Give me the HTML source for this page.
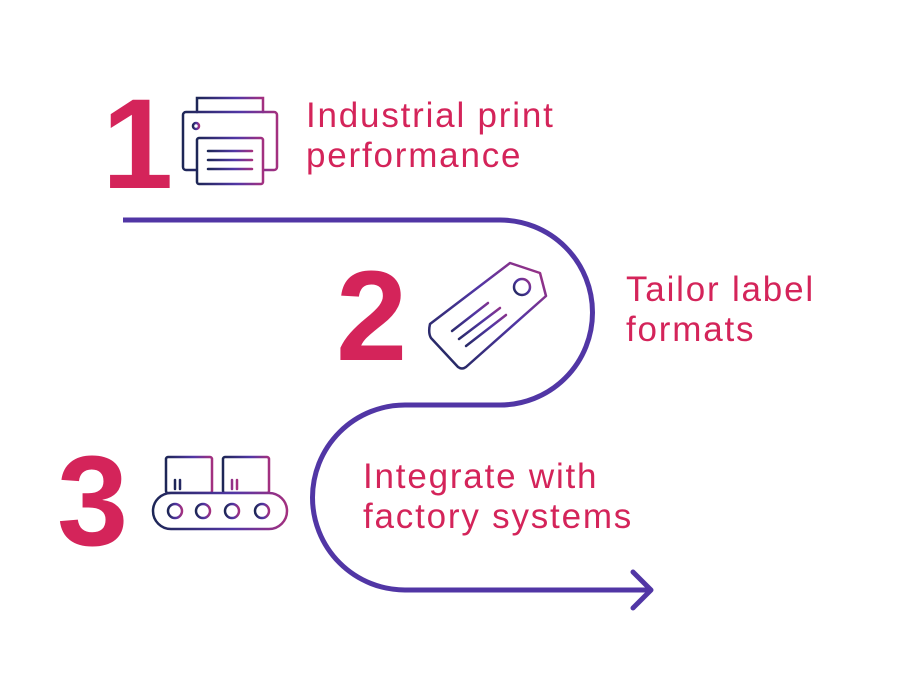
<!DOCTYPE html>
<html><head><meta charset="utf-8"><style>
body{margin:0;background:#fff;width:916px;height:690px;overflow:hidden}
svg{display:block}
.n{font-family:"Liberation Sans",sans-serif;font-weight:bold;fill:#d4245a}
.t{font-family:"Liberation Sans",sans-serif;fill:#d4245a;font-size:35px;letter-spacing:1.8px}
</style></head><body>
<svg width="916" height="690" viewBox="0 0 916 690">
<defs>
<linearGradient id="g" x1="0" y1="0" x2="1" y2="0">
<stop offset="0" stop-color="#1d2656"/><stop offset="0.6" stop-color="#5136a5"/><stop offset="1" stop-color="#a3307f"/>
</linearGradient>
<linearGradient id="g2" x1="0" y1="1" x2="1" y2="0">
<stop offset="0" stop-color="#1d2656"/><stop offset="0.6" stop-color="#5136a5"/><stop offset="1" stop-color="#a3307f"/>
</linearGradient>
</defs>
<path d="M123 220 H500 A92.5 92.5 0 0 1 500 405 H405 A92.5 92.5 0 0 0 405 590 H650" fill="none" stroke="#5136a5" stroke-width="5"/>
<path d="M633 572 L651 590 L633 608" fill="none" stroke="#5136a5" stroke-width="5" stroke-linecap="round" stroke-linejoin="round"/>

<text class="n" x="102" y="188" font-size="128">1</text>
<text class="n" x="336" y="360" font-size="128">2</text>
<text class="n" x="57" y="545" font-size="128">3</text>

<text class="t" x="306" y="127">Industrial print</text>
<text class="t" x="306" y="167">performance</text>
<text class="t" x="626" y="301">Tailor label</text>
<text class="t" x="626" y="341">formats</text>
<text class="t" x="363" y="488">Integrate with</text>
<text class="t" x="363" y="528">factory systems</text>

<g fill="none" stroke="url(#g)" stroke-width="2.5" stroke-linecap="round">
<path d="M197 112 V98 H263 V112"/>
<rect x="183" y="112" width="94" height="58" rx="3"/>
<rect x="197" y="138" width="66" height="46" rx="2" fill="#fff"/>
<circle cx="196" cy="126" r="3"/>
<path d="M208 151 H252 M208 160 H252 M208 169 H252"/>
</g>

<g fill="none" stroke="url(#g2)" stroke-width="2.5" stroke-linecap="round" stroke-linejoin="round">
<path d="M430 324 L510 263 L540 273 L546 296 L466 367 Q462 370 458 367 L431 338 Q428 333 430 324 Z"/>
<circle cx="522" cy="287" r="8"/>
<path d="M452 331 L488 303 M459 339 L500 308 M466 346 L506 315"/>
</g>

<g fill="none" stroke="url(#g)" stroke-width="2.5" stroke-linecap="round">
<rect x="166" y="457" width="46" height="36" rx="2"/>
<rect x="223" y="457" width="46" height="36" rx="2"/>
<path d="M166 468 H184 M223 468 H241"/>
<path d="M175 480 V489 M180 480 V489 M232 480 V489 M237 480 V489"/>
<rect x="153" y="493" width="134" height="36" rx="18" fill="#fff"/>
<circle cx="175" cy="511" r="7"/>
<circle cx="203" cy="511" r="7"/>
<circle cx="232" cy="511" r="7"/>
<circle cx="262" cy="511" r="7"/>
<path d="M170 539 H268"/>
</g>
</svg>
</body></html>
